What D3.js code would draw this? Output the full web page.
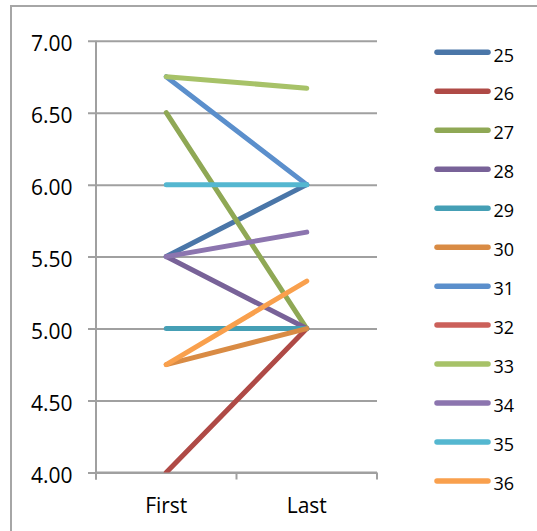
<!DOCTYPE html>
<html>
<head>
<meta charset="utf-8">
<script src="https://cdn.jsdelivr.net/npm/d3@7/dist/d3.min.js"></script>
<style>
  html, body { margin: 0; padding: 0; background: #fff; }
  svg { display: block; }
  text { font-family: "Open Sans", "Noto Sans", sans-serif; fill: #000; }
</style>
</head>
<body>
<script>
// Two time points per respondent
const categories = ["First", "Last"];
const seriesNames = ["25", "26", "27", "28", "29", "30", "31", "32", "33", "34", "35", "36"];
const firstValues = [5.5, 4.0, 6.5, 5.5, 5.0, 4.75, 6.75, null, 6.75, 5.5, 6.0, 4.75];
const lastValues  = [6.0, 5.0, 5.0, 5.0, 5.0, 5.0, 6.0, null, 6.67, 5.67, 6.0, 5.33];
const seriesColors = ["#4A76A8", "#AF4A46", "#8FA855", "#786298", "#459FB5", "#D98B44",
                      "#5B8FCC", "#CB605A", "#A7C268", "#8C75AF", "#54B7D0", "#F9A04D"];
const yTicks = [4.0, 4.5, 5.0, 5.5, 6.0, 6.5, 7.0];

const W = 537, H = 531;
const plot = { left: 96, right: 377, top: 40.7, bottom: 472.5 };

const svg = d3.select("body").append("svg").attr("width", W).attr("height", H);

// chart frame
svg.append("path")
  .attr("d", `M11,${H} V6 H${W}`)
  .attr("fill", "none").attr("stroke", "#A6A6A6").attr("stroke-width", 2);

const x = d3.scalePoint().domain(categories).range([plot.left, plot.right]).padding(0.5);
const y = d3.scaleLinear().domain([4, 7]).range([plot.bottom, plot.top]);
const band = (plot.right - plot.left) / categories.length;

// horizontal gridlines with left ticks
const yAxis = d3.axisLeft(y).tickValues(yTicks).tickFormat(d3.format(".2f"))
  .tickSize(-(plot.right - plot.left)).tickSizeOuter(0).tickPadding(0);
const gy = svg.append("g").attr("transform", `translate(${plot.left},0)`).call(yAxis);
gy.select(".domain").remove();
gy.selectAll(".tick line").attr("stroke", "#A0A0A0").attr("stroke-width", 2).attr("x1", -8);
gy.selectAll(".tick text")
  .attr("x", -23.5).attr("dy", null).attr("y", 10)
  .attr("text-anchor", "end")
  .style("font-size", "21px").style("font-family", "'Open Sans', sans-serif").attr("fill", "#000");

// vertical axis line
svg.append("line")
  .attr("x1", plot.left).attr("x2", plot.left)
  .attr("y1", plot.top).attr("y2", plot.bottom + 7)
  .attr("stroke", "#A0A0A0").attr("stroke-width", 2);

// category axis: ticks between categories
const boundaries = d3.range(categories.length + 1).map(i => plot.left + i * band);
svg.append("line")
  .attr("x1", plot.left).attr("x2", plot.right)
  .attr("y1", plot.bottom).attr("y2", plot.bottom)
  .attr("stroke", "#A0A0A0").attr("stroke-width", 2);
svg.selectAll(".xtick").data(boundaries).join("line")
  .attr("class", "xtick")
  .attr("x1", d => d).attr("x2", d => d)
  .attr("y1", plot.bottom).attr("y2", plot.bottom + 7)
  .attr("stroke", "#A0A0A0").attr("stroke-width", 2);
svg.selectAll(".xlabel").data(categories).join("text")
  .attr("class", "xlabel")
  .attr("x", d => x(d)).attr("y", plot.bottom + 40)
  .attr("text-anchor", "middle")
  .style("font-size", "21px")
  .text(d => d);

// series lines, clipped to the plot area
svg.append("clipPath").attr("id", "plot-clip")
  .append("rect")
  .attr("x", plot.left).attr("y", plot.top - 10)
  .attr("width", plot.right - plot.left).attr("height", plot.bottom - plot.top + 10);

const series = seriesNames.map((name, i) => ({
  name,
  color: seriesColors[i],
  values: [firstValues[i], lastValues[i]]
}));

const line = d3.line()
  .defined(d => d.v != null)
  .x(d => x(d.c)).y(d => y(d.v));

svg.append("g").attr("clip-path", "url(#plot-clip)")
  .selectAll("path").data(series.filter(s => s.values.every(v => v != null))).join("path")
  .attr("d", s => line(s.values.map((v, j) => ({ c: categories[j], v }))))
  .attr("fill", "none")
  .attr("stroke", s => s.color)
  .attr("stroke-width", 5)
  .attr("stroke-linecap", "round")
  .attr("stroke-linejoin", "round");

// legend
const legendY = d3.scalePoint().domain(seriesNames).range([52.3, 481]);
const lg = svg.append("g");
const items = lg.selectAll("g").data(series).join("g")
  .attr("transform", s => `translate(0,${legendY(s.name)})`);
items.append("line")
  .attr("x1", 437).attr("x2", 488)
  .attr("stroke", s => s.color).attr("stroke-width", 5.5)
  .attr("stroke-linecap", "round");
items.append("text")
  .attr("x", 493.5).attr("y", 9.2)
  .style("font-size", "18px")
  .text(s => s.name);
</script>
</body>
</html>
